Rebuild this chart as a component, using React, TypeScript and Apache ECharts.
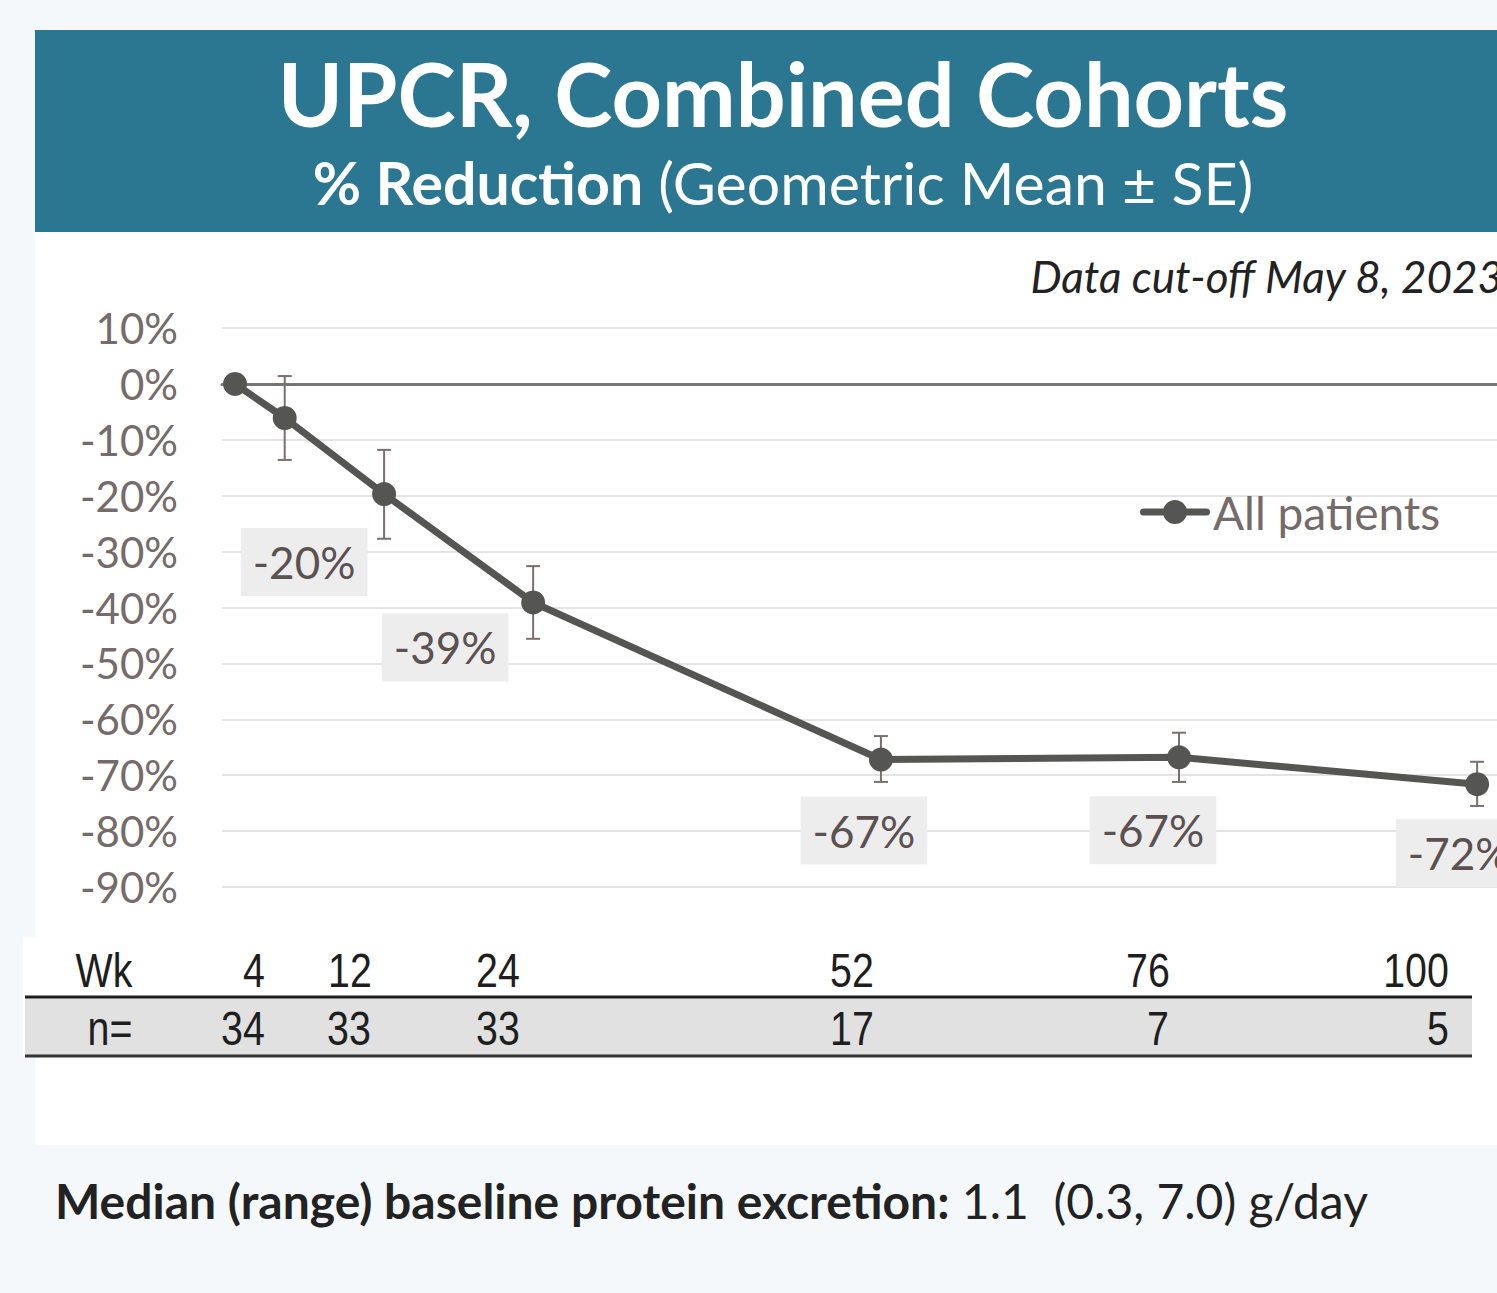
import React, { useEffect, useRef } from "react";
import * as echarts from "echarts";

// ---- data ----
const weeks = [0, 4, 12, 24, 52, 76, 100];
const meanPct = [0, -6.1, -19.7, -39.1, -67.2, -66.8, -71.6];
const seUpper = [null, 1.4, -11.8, -32.6, -63.0, -62.4, -67.6];
const seLower = [null, -13.6, -27.7, -45.6, -71.2, -71.2, -75.5];
const pointLabels = ["", "", "-20%", "-39%", "-67%", "-67%", "-72%"];
const yTicks = [10, 0, -10, -20, -30, -40, -50, -60, -70, -80, -90];
const tableWeeks = ["4", "12", "24", "52", "76", "100"];
const tableN = ["34", "33", "33", "17", "7", "5"];

// ---- layout (positions / styles only) ----
const labelOffsets: [number, number][] = [
  [0, 0], [0, 0], [-80, 68], [-88, 45], [-17, 71], [-26, 73], [-18, 69],
];
const tableWeekX = [254, 350, 498, 852, 1148, 1416];
const tableNX = [243, 349, 498, 852, 1158, 1438];

const W = 1497;
const H = 1293;
const FONT = "Lato, 'Open Sans', sans-serif";
const NARROW = "'Liberation Sans', Arial, sans-serif";
const NARROW_SCALE = 0.82;

// legend icon: a line bar with a dot in the middle
const LEGEND_ICON =
  "path://M3.5,8.5H66.5A3.5,3.5 0 0,1 66.5,15.5H3.5A3.5,3.5 0 0,1 3.5,8.5Z M23,12a12,12 0 1,1 24,0a12,12 0 1,1 -24,0Z";

export default function App() {
  const ref = useRef<HTMLDivElement>(null);

  useEffect(() => {
    document.body.style.margin = "0";
    const chart = echarts.init(ref.current!, undefined, { renderer: "svg" });

    const lineData = weeks.map((w, i) => {
      const item: any = { value: [w, meanPct[i]] };
      if (pointLabels[i]) {
        item.label = {
          show: true,
          formatter: pointLabels[i],
          offset: labelOffsets[i],
        };
      }
      return item;
    });

    const errData = weeks
      .map((w, i) => (seUpper[i] === null ? null : [w, seLower[i], seUpper[i]]))
      .filter((d) => d !== null);

    const tableText = (t: string, x: number, y: number) => ({
      type: "text",
      z: 7,
      x,
      y,
      scaleX: NARROW_SCALE,
      style: {
        text: t,
        fill: "#1e1e1e",
        font: `48px ${NARROW}`,
        textAlign: "center",
        textVerticalAlign: "middle",
      },
    });

    const graphic: any[] = [
      // white panel
      { type: "rect", z: -10, shape: { x: 35, y: 232, width: W - 35, height: 913 }, style: { fill: "#ffffff" } },
      // banner
      { type: "rect", z: 10, shape: { x: 35, y: 30, width: W - 35, height: 202 }, style: { fill: "#2b7791" } },
      {
        type: "text", z: 11, x: 783, y: 93,
        style: {
          text: "UPCR, Combined Cohorts", fill: "#ffffff", font: `bold 88px ${FONT}`,
          textAlign: "center", textVerticalAlign: "middle",
        },
      },
      {
        type: "text", z: 11, x: 783, y: 182,
        style: {
          text: "{b|% Reduction}{r|\u00a0(Geometric Mean ± SE)}",
          textAlign: "center", textVerticalAlign: "middle",
          rich: {
            b: { fill: "#ffffff", font: `bold 59px ${FONT}` },
            r: { fill: "#ffffff", font: `59px ${FONT}` },
          },
        },
      },
      {
        type: "text", z: 11, x: 1503, y: 276,
        style: {
          text: "Data cut-off May 8, 2023", fill: "#222222", font: `italic 44px ${FONT}`,
          textAlign: "right", textVerticalAlign: "middle",
        },
      },
      // table
      { type: "rect", z: 5, shape: { x: 23, y: 937, width: 1449, height: 120 }, style: { fill: "#ffffff" } },
      { type: "rect", z: 5, shape: { x: 25, y: 997, width: 1447, height: 59 }, style: { fill: "#e1e1e1" } },
      { type: "line", z: 6, shape: { x1: 25, y1: 997, x2: 1472, y2: 997 }, style: { stroke: "#1e1e1e", lineWidth: 3 } },
      { type: "line", z: 6, shape: { x1: 25, y1: 1056, x2: 1472, y2: 1056 }, style: { stroke: "#333333", lineWidth: 3 } },
      tableText("Wk", 104, 970),
      tableText("n=", 110, 1028),
      ...tableWeeks.map((t, i) => tableText(t, tableWeekX[i], 970)),
      ...tableN.map((t, i) => tableText(t, tableNX[i], 1028)),
      // footer
      {
        type: "text", z: 7, x: 55, y: 1200,
        style: {
          text: "{b|Median (range) baseline protein excretion:}{r|\u00a01.1\u00a0\u00a0(0.3, 7.0) g/day}",
          textAlign: "left", textVerticalAlign: "middle",
          rich: {
            b: { fill: "#222222", font: `bold 48px ${FONT}` },
            r: { fill: "#222222", font: `48px ${FONT}` },
          },
        },
      },
    ];

    chart.setOption({
      animation: false,
      backgroundColor: "#f4f8fb",
      grid: { left: 222, right: 0, top: 328, height: 559 },
      legend: {
        show: true,
        left: 1140,
        top: 489,
        padding: 0,
        itemWidth: 70,
        itemHeight: 24,
        itemGap: 5,
        icon: LEGEND_ICON,
        textStyle: { fontSize: 46, color: "#756b6b", fontFamily: FONT, padding: [0, 0, 0, -2] },
        data: ["All patients"],
      },
      xAxis: {
        type: "value",
        min: -1.05,
        max: 101.6,
        axisLabel: { show: false },
        axisTick: { show: false },
        splitLine: { show: false },
        axisLine: { show: true, onZero: true, lineStyle: { color: "#767676", width: 3 } },
      },
      yAxis: {
        type: "value",
        min: yTicks[yTicks.length - 1],
        max: yTicks[0],
        interval: 10,
        axisLine: { show: false },
        axisTick: { show: false },
        axisLabel: {
          formatter: (v: number) => `${v}%`,
          color: "#756b6b",
          fontSize: 42,
          fontFamily: FONT,
          margin: 44,
        },
        splitLine: { lineStyle: { color: "#e3e3e3", width: 2 } },
      },
      series: [
        {
          type: "custom",
          name: "SE",
          z: 3,
          data: errData,
          renderItem: (params: any, api: any) => {
            const x = api.value(0);
            const lo = api.coord([x, api.value(1)]);
            const hi = api.coord([x, api.value(2)]);
            const cap = 7;
            const style = { stroke: "#7a6e6e", lineWidth: 2 };
            return {
              type: "group",
              children: [
                { type: "line", shape: { x1: lo[0], y1: lo[1], x2: hi[0], y2: hi[1] }, style },
                { type: "line", shape: { x1: lo[0] - cap, y1: lo[1], x2: lo[0] + cap, y2: lo[1] }, style },
                { type: "line", shape: { x1: hi[0] - cap, y1: hi[1], x2: hi[0] + cap, y2: hi[1] }, style },
              ],
            };
          },
        },
        {
          type: "line",
          name: "All patients",
          z: 4,
          data: lineData,
          symbol: "circle",
          symbolSize: 24,
          clip: false,
          lineStyle: { color: "#555553", width: 7 },
          itemStyle: { color: "#555553" },
          label: {
            show: false,
            position: "inside",
            color: "#5b5151",
            fontSize: 44,
            fontFamily: FONT,
            backgroundColor: "#ededed",
            padding: [12, 12, 12, 12],
          },
        },
      ],
      graphic,
    });

    return () => chart.dispose();
  }, []);

  return (
    <div
      ref={ref}
      style={{ position: "absolute", left: 0, top: 0, width: W, height: H }}
    />
  );
}
